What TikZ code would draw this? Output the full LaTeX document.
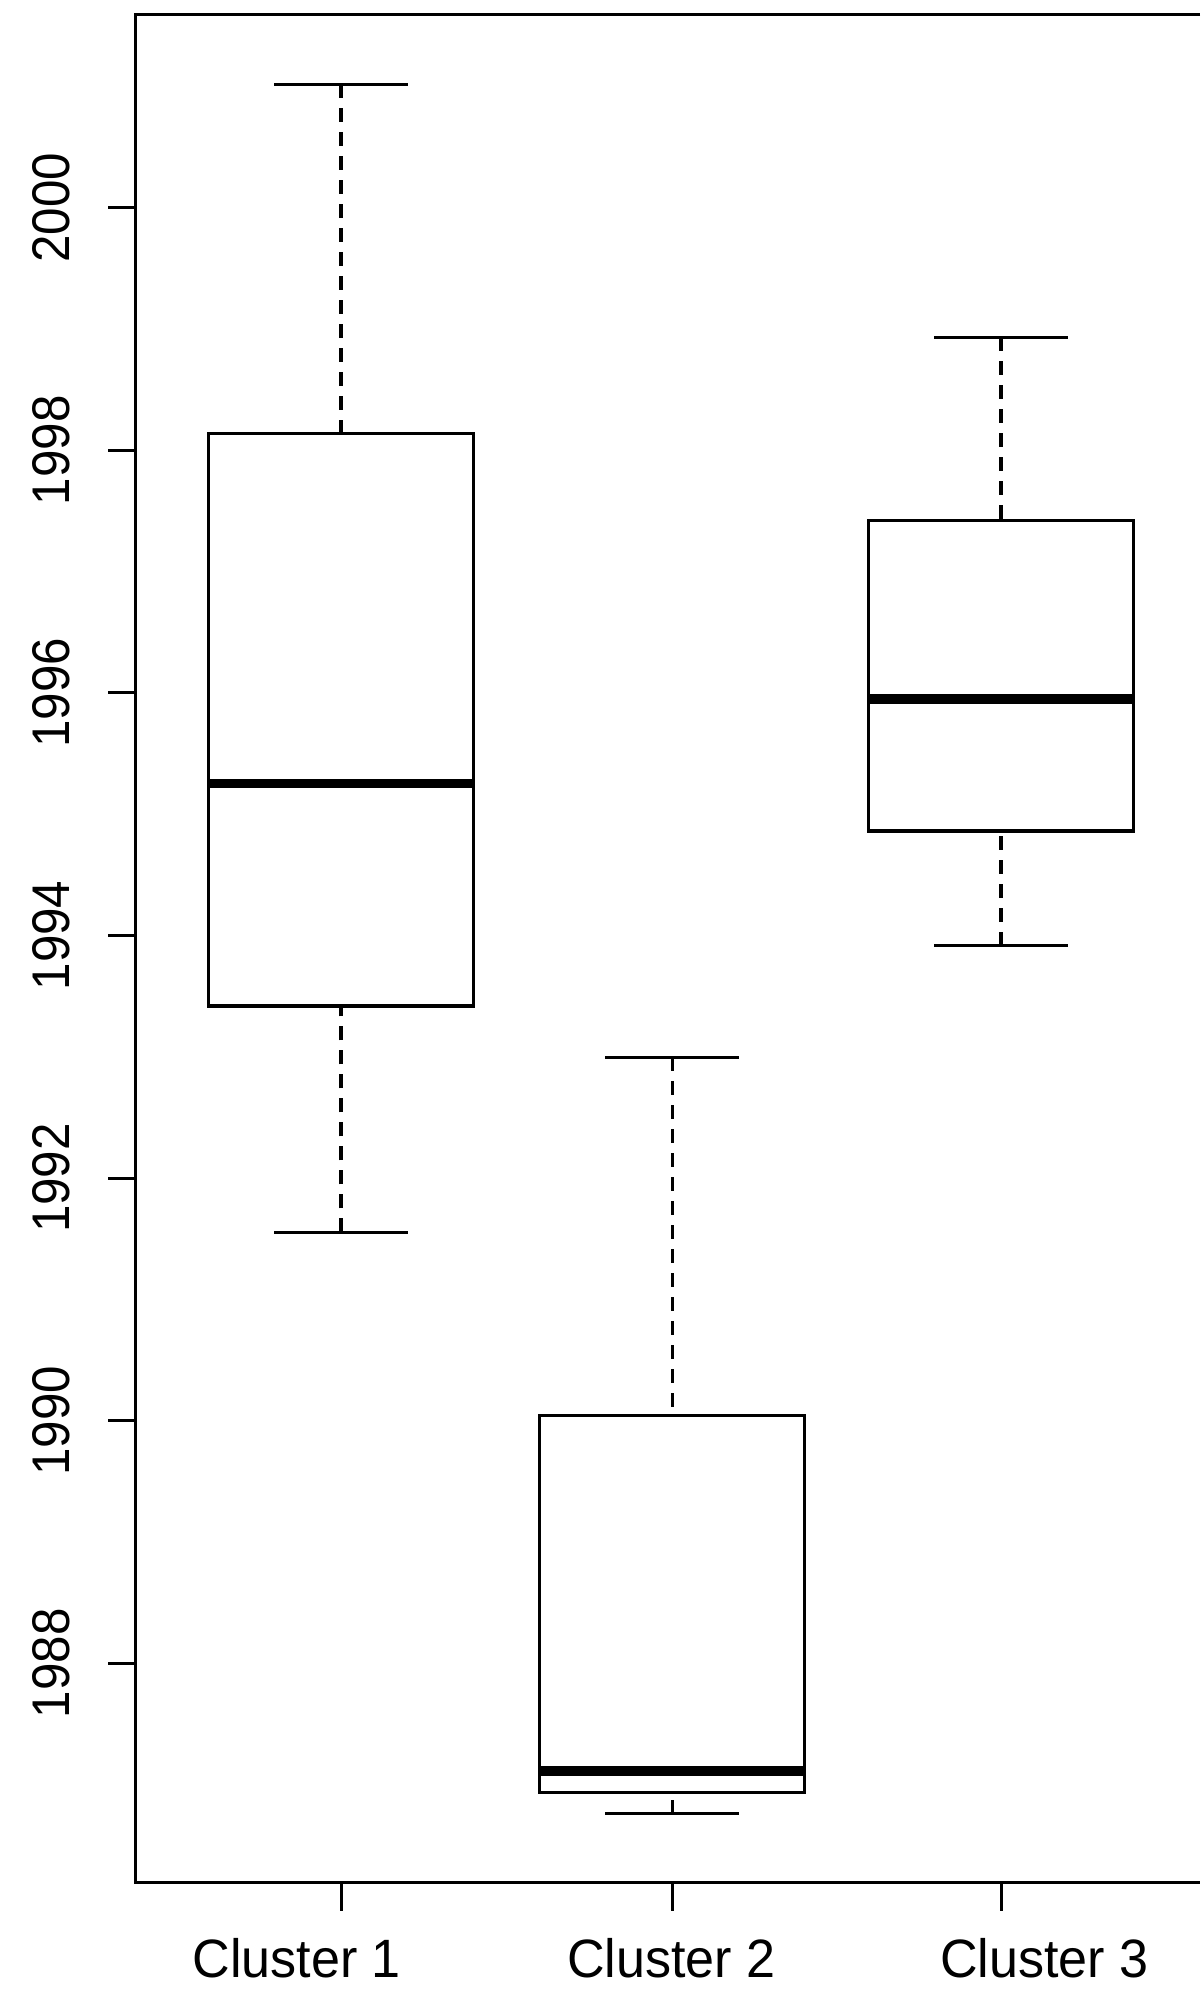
\documentclass[tikz,border=0pt]{standalone}
\usepackage{fontspec}
\setmainfont{Liberation Sans}
\newcommand\bxplot[7]{% name, cx, upper cap, q3, median, q1, lower cap
  \draw[whisk] (#2,#3) -- (#2,#4);
  \draw[whisk] (#2,#7) -- (#2,#6);
  \draw[capline] (#2-67,#3) -- (#2+67,#3);
  \draw[capline] (#2-67,#7) -- (#2+67,#7);
  \draw[boxline] (#2-132.5,#4) rectangle (#2+132.5,#6);
  \coordinate (#1med) at (#2,#5);
  \draw[medline] ([xshift=-132.5pt]#1med) -- ([xshift=132.5pt]#1med);
}
\begin{document}
\begin{tikzpicture}[x=1pt,y=-1pt,
  axisline/.style={line width=3pt, black},
  boxline/.style={line width=3.1pt, black, line join=miter},
  medline/.style={line width=9.5pt, black},
  whisk/.style={line width=3.1pt, black, dash pattern=on 14pt off 10pt},
  capline/.style={line width=3.1pt, black},
  ylab/.style={rotate=90, inner sep=0pt, font=\fontsize{53}{60}\selectfont},
  xlab/.style={anchor=base, inner sep=0pt, font=\fontsize{54}{60}\selectfont}]
\useasboundingbox (0,0) rectangle (1200,1994);
\fill[white] (0,0) rectangle (1200,1994);
% frame
\draw[axisline] (1200,14.3) -- (135.3,14.3) -- (135.3,1882.7) -- (1200,1882.7);
% y axis ticks and labels
\foreach \v/\yy in {2000/207.7,1998/450.3,1996/692.9,1994/935.5,1992/1178.1,1990/1420.7,1988/1663.3}{
  \draw[axisline] (108,\yy) -- (135.3,\yy);
  \node[ylab] (yl\v) at (51,\yy) {\scalebox{0.93}[1]{\v}};
}
% x axis ticks
\foreach \xx in {341,672.3,1001}{
  \draw[axisline] (\xx,1882.7) -- (\xx,1910.7);
}
% x labels
\node[xlab] (xl1) at (296.7,1977) {\scalebox{0.965}[1]{Cluster 1}};
\node[xlab] (xl2) at (671.4,1977) {\scalebox{0.965}[1]{Cluster 2}};
\node[xlab] (xl3) at (1044.4,1977) {\scalebox{0.965}[1]{Cluster 3}};
% boxplots
\bxplot{c1}{341}{84.3}{433.3}{783.3}{1006}{1232.3}
\bxplot{c2}{672.3}{1057.3}{1415.7}{1771}{1792.7}{1813.7}
\bxplot{c3}{1001}{337.3}{520.7}{699}{831}{945.7}
\end{tikzpicture}
\end{document}
